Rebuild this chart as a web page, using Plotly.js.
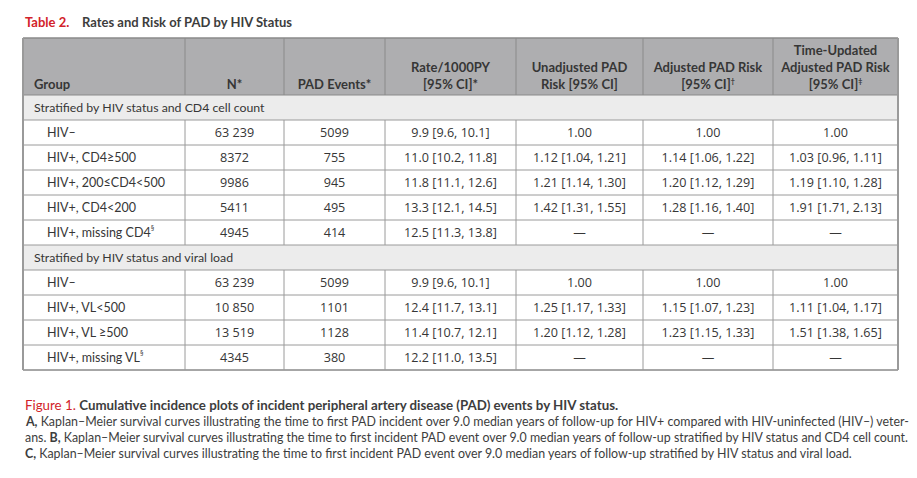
<!DOCTYPE html>
<html>
<head>
<meta charset="utf-8">
<script src="https://cdn.plot.ly/plotly-3.0.1.min.js"></script>
<style>html,body{margin:0;padding:0;background:#fff;}#chart{width:917px;height:478px;}</style>
</head>
<body>
<div id="chart"></div>
<script>
// ---- data ----
const SUP = s => "<sup><span style='font-size:7px'>" + s + "</span></sup>";
const headers = ["Group", "N*", "PAD Events*", "Rate/1000PY<br>[95% CI]*", "Unadjusted PAD<br>Risk [95% CI]", "Adjusted PAD Risk<br>[95% CI]" + SUP("†"), "Time-Updated<br>Adjusted PAD Risk<br>[95% CI]" + SUP("‡")];
const section1 = "Stratified by HIV status and CD4 cell count";
const section2 = "Stratified by HIV status and viral load";

const groups1 = ["HIV–", "HIV+, CD4≥500", "HIV+, 200≤CD4<500", "HIV+, CD4<200", "HIV+, missing CD4" + SUP("§")];
const n1 = ["63 239", "8372", "9986", "5411", "4945"];
const events1 = ["5099", "755", "945", "495", "414"];
const rate1 = ["9.9 [9.6, 10.1]", "11.0 [10.2, 11.8]", "11.8 [11.1, 12.6]", "13.3 [12.1, 14.5]", "12.5 [11.3, 13.8]"];
const unadj1 = ["1.00", "1.12 [1.04, 1.21]", "1.21 [1.14, 1.30]", "1.42 [1.31, 1.55]", "—"];
const adj1 = ["1.00", "1.14 [1.06, 1.22]", "1.20 [1.12, 1.29]", "1.28 [1.16, 1.40]", "—"];
const tu1 = ["1.00", "1.03 [0.96, 1.11]", "1.19 [1.10, 1.28]", "1.91 [1.71, 2.13]", "—"];

const groups2 = ["HIV–", "HIV+, VL<500", "HIV+, VL ≥500", "HIV+, missing VL" + SUP("§")];
const n2 = ["63 239", "10 850", "13 519", "4345"];
const events2 = ["5099", "1101", "1128", "380"];
const rate2 = ["9.9 [9.6, 10.1]", "12.4 [11.7, 13.1]", "11.4 [10.7, 12.1]", "12.2 [11.0, 13.5]"];
const unadj2 = ["1.00", "1.25 [1.17, 1.33]", "1.20 [1.12, 1.28]", "—"];
const adj2 = ["1.00", "1.15 [1.07, 1.23]", "1.23 [1.15, 1.33]", "—"];
const tu2 = ["1.00", "1.11 [1.04, 1.17]", "1.51 [1.38, 1.65]", "—"];

const titleLabel = "Table 2.";
const titleText = "Rates and Risk of PAD by HIV Status";
const captionLines = [
  "<span style='color:#d2232a'>Figure 1.</span> <b>Cumulative incidence plots of incident peripheral artery disease (PAD) events by HIV status.</b>",
  "<b>A,</b> Kaplan–Meier survival curves illustrating the time to first PAD incident over 9.0 median years of follow-up for HIV+ compared with HIV-uninfected (HIV–) veter-",
  "ans. <b>B,</b> Kaplan–Meier survival curves illustrating the time to first incident PAD event over 9.0 median years of follow-up stratified by HIV status and CD4 cell count.",
  "<b>C,</b> Kaplan–Meier survival curves illustrating the time to first incident PAD event over 9.0 median years of follow-up stratified by HIV status and viral load."
];

// ---- layout geometry (pixels) ----
const W = 917, H = 478;
const colEdges = [23, 185, 284, 385, 516, 643, 773, 898];
const HEAD_TOP = 38, HEAD_H = 57, ROW_H = 25;
const FONT = "Lato, 'Open Sans', sans-serif";
const NUMFONT = "'Open Sans', Lato, sans-serif";
const TXT = "#363636";
const LINE = "#9a9a9a";

const blocks = [
  {section: section1, cols: [groups1, n1, events1, rate1, unadj1, adj1, tu1]},
  {section: section2, cols: [groups2, n2, events2, rate2, unadj2, adj2, tu2]}
];
let y = HEAD_TOP + HEAD_H;
const sectionRows = [];
const dataRows = [];
const blockSpans = [];
blocks.forEach(b => {
  sectionRows.push({top: y, text: b.section});
  y += ROW_H;
  const start = y;
  for (let r = 0; r < b.cols[0].length; r++) {
    dataRows.push({top: y, values: b.cols.map(c => c[r])});
    y += ROW_H;
  }
  blockSpans.push([start, y]);
});
const TABLE_BOTTOM = y;
const colCenter = c => (colEdges[c] + colEdges[c + 1]) / 2;
const rowMid = top => top + ROW_H / 2 + 1;

// ---- traces (cell text) ----
const traces = [];
headers.forEach((h, c) => {
  traces.push({
    type: 'scatter', mode: 'text', hoverinfo: 'skip', showlegend: false,
    x: [c === 0 ? colEdges[0] + 11 : colCenter(c)], y: [HEAD_TOP + HEAD_H - 2.5],
    text: ['<b>' + h + '</b>'],
    textposition: c === 0 ? 'top right' : 'top center',
    textfont: {family: FONT, size: 13, color: TXT}
  });
});
traces.push({
  type: 'scatter', mode: 'text', hoverinfo: 'skip', showlegend: false,
  x: sectionRows.map(() => colEdges[0] + 11), y: sectionRows.map(s => rowMid(s.top)),
  text: sectionRows.map(s => s.text), textposition: 'middle right',
  textfont: {family: FONT, size: 12.3, color: TXT}
});
traces.push({
  type: 'scatter', mode: 'text', hoverinfo: 'skip', showlegend: false,
  x: dataRows.map(() => colEdges[0] + 24), y: dataRows.map(r => rowMid(r.top)),
  text: dataRows.map(r => r.values[0]), textposition: 'middle right',
  textfont: {family: FONT, size: 12.5, color: TXT}
});
for (let c = 1; c < 7; c++) {
  traces.push({
    type: 'scatter', mode: 'text', hoverinfo: 'skip', showlegend: false,
    x: dataRows.map(() => colCenter(c)), y: dataRows.map(r => rowMid(r.top)),
    text: dataRows.map(r => r.values[c]), textposition: 'middle center',
    textfont: {family: NUMFONT, size: 12.6, color: TXT}
  });
}

// ---- shapes (fills and rules) ----
const shapes = [];
const X0 = colEdges[0], X1 = colEdges[colEdges.length - 1];
shapes.push({type: 'rect', layer: 'below', xref: 'x', yref: 'y', x0: X0, x1: X1, y0: HEAD_TOP, y1: HEAD_TOP + HEAD_H, fillcolor: '#aeaeb0', line: {width: 0}});
sectionRows.forEach(s => shapes.push({type: 'rect', layer: 'below', xref: 'x', yref: 'y', x0: X0, x1: X1, y0: s.top, y1: s.top + ROW_H, fillcolor: '#ececec', line: {width: 0}}));
const hline = (yy, col, w) => shapes.push({type: 'line', xref: 'x', yref: 'y', x0: X0, x1: X1, y0: yy, y1: yy, line: {color: col, width: w}});
const vline = (xx, a, b, col, w) => shapes.push({type: 'line', xref: 'x', yref: 'y', x0: xx, x1: xx, y0: a, y1: b, line: {color: col, width: w}});
hline(HEAD_TOP, '#8a8a8a', 1.5);
hline(HEAD_TOP + HEAD_H, '#8a8a8a', 1);
sectionRows.forEach(s => hline(s.top + ROW_H, LINE, 1));
dataRows.forEach(r => hline(r.top + ROW_H, LINE, 1));
hline(TABLE_BOTTOM, LINE, 1.5);
for (let c = 1; c < colEdges.length - 1; c++) {
  vline(colEdges[c], HEAD_TOP, HEAD_TOP + HEAD_H, '#8a8a8a', 1);
  blockSpans.forEach(sp => vline(colEdges[c], sp[0], sp[1], LINE, 1));
}
vline(X0, HEAD_TOP, TABLE_BOTTOM, LINE, 2);
vline(X1, HEAD_TOP, TABLE_BOTTOM, LINE, 2);

// ---- title & caption ----
const annotations = [
  {text: '<b>' + titleLabel + '</b>', x: X0, y: 22, xref: 'x', yref: 'y', xanchor: 'left', yanchor: 'middle', showarrow: false, font: {family: FONT, size: 13, color: '#d2232a'}},
  {text: '<b>' + titleText + '</b>', x: 80, y: 22, xref: 'x', yref: 'y', xanchor: 'left', yanchor: 'middle', showarrow: false, font: {family: FONT, size: 13, color: '#3d3d3d'}}
];
const capY = [405, 421, 437, 453];
const capSize = [13.3, 12.4, 12.4, 12.4];
captionLines.forEach((t, i) => {
  annotations.push({text: t, x: X0, y: capY[i], xref: 'x', yref: 'y', xanchor: 'left', yanchor: 'middle', showarrow: false, align: 'left',
    font: {family: FONT, size: capSize[i], color: '#3d3d3d'}});
});

Plotly.newPlot('chart', traces, {
  width: W, height: H,
  margin: {l: 0, r: 0, t: 0, b: 0},
  paper_bgcolor: '#ffffff', plot_bgcolor: 'rgba(0,0,0,0)',
  xaxis: {range: [0, W], visible: false, fixedrange: true},
  yaxis: {range: [H, 0], visible: false, fixedrange: true},
  shapes: shapes,
  annotations: annotations,
  showlegend: false
}, {staticPlot: true, displayModeBar: false});
</script>
</body>
</html>
